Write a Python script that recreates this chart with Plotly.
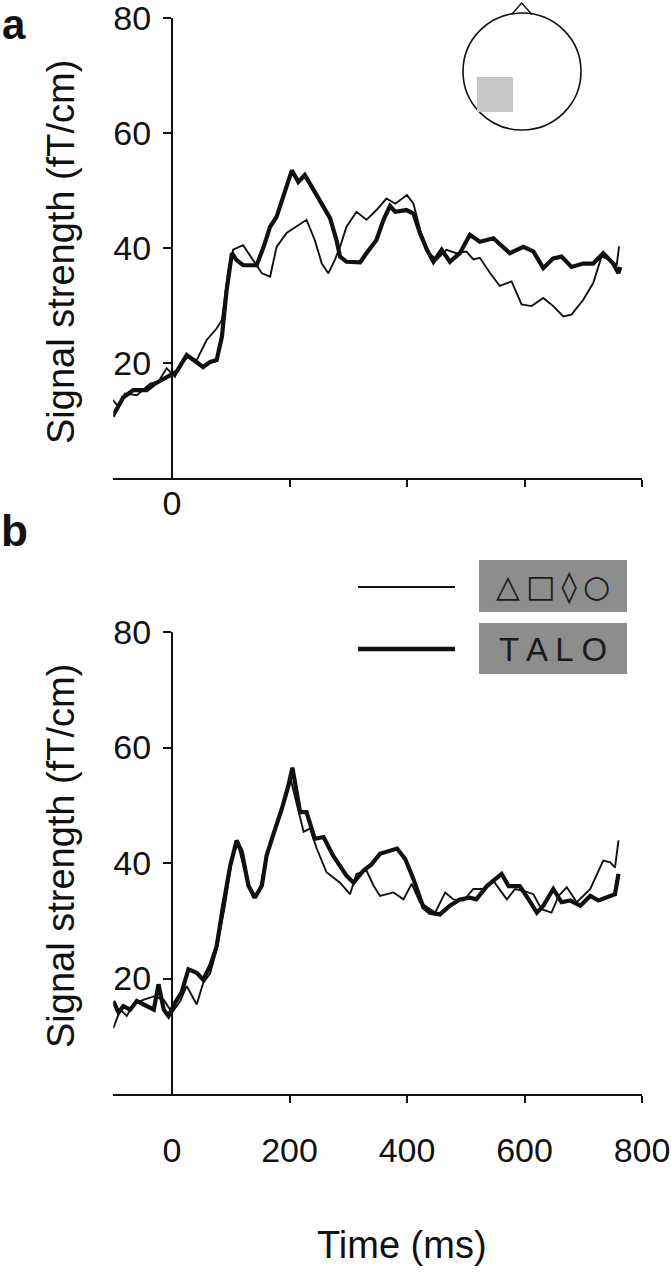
import plotly.graph_objects as go

W, H = 671, 1280

# ---- panel a (top) ----
a_shapes_t = [-101, -91, -80, -60, -37, -23, -9, 5, 14, 28, 42, 59, 76, 85, 96, 104, 121, 138, 153, 167,
              178, 195, 212, 229, 243, 255, 266, 277, 286, 297, 314, 331, 348, 365, 380, 400, 411, 423,
              437, 451, 467, 484, 501, 513, 524, 541, 558, 578, 595, 612, 632, 649, 666, 680, 700, 717,
              731, 745, 757, 761]
a_shapes_v = [13.6, 12.4, 14.7, 14.4, 16.4, 16.8, 19.1, 17.6, 19.7, 21.1, 20.5, 24.0, 26.0, 27.5, 36.2,
              39.7, 40.5, 37.9, 35.6, 35.0, 40.2, 42.6, 43.7, 44.9, 41.4, 37.3, 35.6, 37.9, 40.2, 43.7,
              46.3, 44.9, 46.6, 48.6, 47.7, 49.2, 47.7, 42.9, 39.1, 38.0, 39.7, 39.1, 39.4, 38.0, 38.3,
              35.7, 33.4, 34.2, 30.2, 29.9, 31.3, 29.9, 28.1, 28.4, 31.0, 33.9, 38.5, 38.0, 37.1, 40.3]

a_talo_t = [-101, -83, -66, -43, -29, -9, 8, 25, 42, 53, 65, 76, 85, 93, 102, 110, 121, 144, 156, 167,
            178, 192, 204, 215, 226, 241, 258, 269, 280, 286, 297, 320, 331, 348, 360, 371, 380, 399,
            411, 422, 434, 445, 459, 473, 490, 507, 524, 547, 575, 598, 615, 632, 649, 663, 680, 700,
            717, 734, 751, 760, 763]
a_talo_v = [10.7, 14.0, 15.3, 15.3, 16.4, 17.6, 18.5, 21.4, 20.2, 19.3, 20.2, 20.5, 24.6, 32.7, 39.1,
            37.9, 37.0, 37.0, 40.2, 43.7, 45.4, 50.1, 53.5, 51.5, 52.7, 50.1, 46.9, 45.2, 41.4, 38.5,
            37.6, 37.5, 39.1, 41.4, 44.9, 47.3, 46.3, 46.6, 46.0, 42.6, 39.7, 37.6, 39.7, 37.6, 39.1,
            42.3, 41.1, 41.7, 39.1, 40.2, 39.4, 36.5, 38.2, 38.5, 36.7, 37.3, 37.3, 39.1, 37.3, 35.6,
            36.7]

# ---- panel b (bottom) ----
b_shapes_t = [-100, -88, -77, -66, -49, -31, -14, 0, 14, 25, 42, 53, 65, 76, 90, 104, 113, 124, 138,
              150, 161, 178, 195, 202, 212, 224, 235, 246, 263, 286, 303, 314, 331, 343, 354, 377, 394,
              408, 422, 434, 448, 465, 479, 496, 513, 530, 547, 570, 584, 598, 615, 629, 646, 658, 672,
              689, 712, 734, 746, 754, 760]
b_shapes_v = [11.4, 14.6, 13.5, 15.5, 16.3, 16.9, 16.3, 14.1, 16.1, 18.7, 15.5, 19.2, 20.9, 25.0, 32.6,
              41.9, 43.0, 38.4, 34.0, 35.5, 41.3, 46.5, 51.7, 54.5, 50.2, 45.4, 46.0, 42.6, 38.4, 36.6,
              34.6, 38.1, 38.7, 36.1, 34.3, 34.9, 33.7, 36.4, 33.2, 32.3, 31.4, 34.9, 33.7, 33.5, 35.5,
              35.5, 36.9, 33.7, 35.5, 35.2, 34.6, 32.0, 31.4, 34.3, 35.8, 33.2, 35.5, 40.4, 40.1, 39.2,
              43.9]

b_talo_t = [-100, -91, -83, -71, -60, -43, -31, -23, -14, -6, 5, 16, 28, 42, 53, 65, 76, 87, 99, 110,
            119, 130, 141, 153, 161, 172, 187, 198, 205, 218, 229, 243, 258, 274, 297, 309, 326, 340,
            354, 383, 397, 411, 428, 439, 456, 473, 490, 507, 518, 536, 561, 573, 592, 607, 621, 632,
            649, 663, 678, 695, 712, 726, 740, 754, 760]
b_talo_v = [16.1, 14.1, 15.2, 14.6, 16.1, 15.2, 14.6, 19.0, 14.6, 13.5, 15.8, 17.5, 21.6, 21.0, 19.8,
            22.2, 25.6, 32.6, 39.5, 43.9, 41.9, 36.1, 34.0, 36.1, 41.3, 44.8, 49.4, 53.4, 56.5, 48.8,
            48.8, 44.2, 44.5, 41.3, 37.8, 36.6, 38.7, 39.8, 41.6, 42.5, 40.7, 37.2, 32.3, 31.4, 31.1,
            32.6, 33.7, 34.0, 33.7, 36.0, 38.1, 36.0, 36.0, 33.7, 31.4, 32.6, 35.5, 33.2, 33.5, 32.6,
            34.3, 33.5, 34.0, 34.6, 38.1]

y_ticks = [20, 40, 60, 80]
x_minor_ticks = [200, 400, 600, 800]
a_x_labels = [0]
b_x_labels = [0, 200, 400, 600, 800]

FONT = "Liberation Sans, Arial, sans-serif"
INK = "#111111"


def px(x):
    return x / W


def py(y):
    return 1 - y / H


fig = go.Figure()

thin = dict(color=INK, width=1.9)
thick = dict(color=INK, width=4.2)
fig.add_trace(go.Scatter(x=a_shapes_t, y=a_shapes_v, mode="lines", line=thin, xaxis="x", yaxis="y"))
fig.add_trace(go.Scatter(x=a_talo_t, y=a_talo_v, mode="lines", line=thick, xaxis="x", yaxis="y"))
fig.add_trace(go.Scatter(x=b_shapes_t, y=b_shapes_v, mode="lines", line=thin, xaxis="x2", yaxis="y2"))
fig.add_trace(go.Scatter(x=b_talo_t, y=b_talo_v, mode="lines", line=thick, xaxis="x2", yaxis="y2"))

x_dom = [px(113.25), px(642)]
y_pos = px(172)
tickfont = dict(family=FONT, size=34, color=INK)


def xaxis(anchor, labels, standoff):
    return dict(
        domain=x_dom, range=[-100, 800], anchor=anchor, automargin=False,
        showline=True, linewidth=2, linecolor=INK, showgrid=False, zeroline=False,
        tickmode="array", tickvals=labels, ticktext=[str(v) for v in labels], ticks="",
        ticklabelstandoff=standoff, tickfont=tickfont, ticklabeloverflow="allow",
        minor=dict(tickmode="array", tickvals=x_minor_ticks, ticks="outside", ticklen=7,
                   tickwidth=2, tickcolor=INK),
    )


def yaxis(dom):
    return dict(
        domain=dom, range=[0, 80], anchor="free", position=y_pos, automargin=False,
        showline=True, linewidth=2, linecolor=INK, showgrid=False, zeroline=False,
        tickmode="array", tickvals=y_ticks, ticks="outside", ticklen=8, tickwidth=2,
        tickcolor=INK, tickfont=tickfont, ticklabelstandoff=5, ticklabeloverflow="allow",
    )


fig.update_layout(
    width=W, height=H,
    margin=dict(l=0, r=0, t=0, b=0, autoexpand=False),
    paper_bgcolor="white", plot_bgcolor="rgba(0,0,0,0)",
    showlegend=False,
    xaxis=xaxis("y", a_x_labels, -6),
    yaxis=yaxis([py(478), py(18)]),
    xaxis2=xaxis("y2", b_x_labels, 25),
    yaxis2=yaxis([py(1094), py(632)]),
)

title_font = dict(family=FONT, size=38, color=INK)
notes = [
    dict(text="Signal strength (fT/cm)", x=px(61), y=py(252), textangle=-90, font=title_font),
    dict(text="Signal strength (fT/cm)", x=px(61), y=py(856), textangle=-90, font=title_font),
    dict(text="Time (ms)", x=px(402), y=py(1245), font=title_font),
    dict(text="<b>b</b>", x=px(14), y=py(530), font=dict(family=FONT, size=44, color=INK)),
    dict(text="△\u2009□\u2009◊\u2009○", x=px(553), y=py(586),
         font=dict(family="DejaVu Sans", size=31, color="#1a1a1a")),
    dict(text="T A L O", x=px(553), y=py(649),
         font=dict(family=FONT, size=33, color="#1a1a1a")),
]
for n in notes:
    fig.add_annotation(xref="paper", yref="paper", showarrow=False,
                       xanchor="center", yanchor="middle", **n)
# panel letter a, kept inside the top edge
fig.add_annotation(xref="paper", yref="paper", showarrow=False, text="<b>a</b>",
                   x=px(1), y=1, xanchor="left", yanchor="top", borderpad=0,
                   font=dict(family=FONT, size=42, color=INK))

shapes = [
    # legend boxes and swatches
    dict(type="rect", x0=px(479), x1=px(627), y0=py(612), y1=py(560),
         fillcolor="#8d8d8d", line=dict(width=0)),
    dict(type="rect", x0=px(479), x1=px(627), y0=py(674), y1=py(623),
         fillcolor="#8d8d8d", line=dict(width=0)),
    dict(type="line", x0=px(358), x1=px(455), y0=py(587), y1=py(587),
         line=dict(color=INK, width=2.2)),
    dict(type="line", x0=px(358), x1=px(455), y0=py(649), y1=py(649),
         line=dict(color=INK, width=4.5)),
    # head diagram
    dict(type="circle", x0=px(463), x1=px(581), y0=py(130), y1=py(13),
         line=dict(color=INK, width=1.6)),
    dict(type="path",
         path=f"M {px(511.5)},{py(14.5)} L {px(521.7)},{py(3)} L {px(531.9)},{py(14.5)}",
         line=dict(color=INK, width=1.4)),
    dict(type="rect", x0=px(477), x1=px(513), y0=py(112), y1=py(77),
         fillcolor="#c6c6c6", line=dict(width=0)),
]
for s in shapes:
    fig.add_shape(xref="paper", yref="paper", layer="above", **s)

# drop the default 8px page margin so the figure sits at the window corner
fig.write_html("out.html", config=dict(displayModeBar=False),
               post_script="document.body.style.margin='0px';")
